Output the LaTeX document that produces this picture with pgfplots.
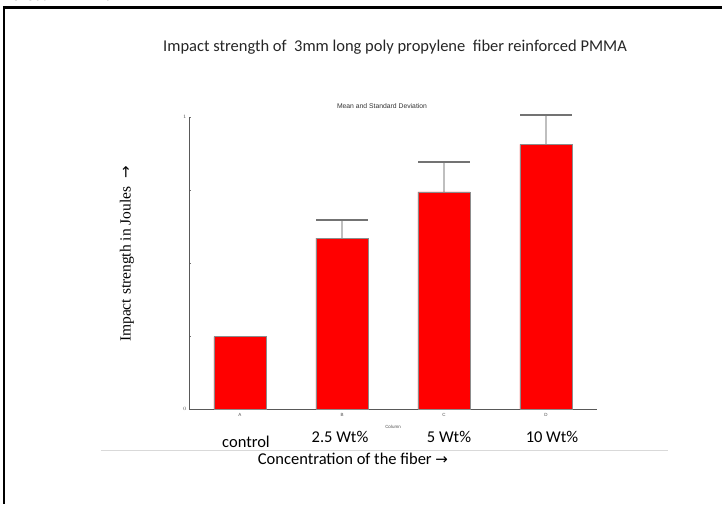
\documentclass[border=0pt]{standalone}
\usepackage{fontspec}
\setmainfont{Carlito}
\newfontfamily\serif{Liberation Serif}
\newfontfamily\arial{Liberation Sans}
\newfontfamily\dejavu{DejaVu Sans}
\usepackage{pgfplots}
\pgfplotsset{compat=1.18}

\begin{document}
\begin{tikzpicture}[x=1pt,y=1pt]
\begin{axis}[anchor=south west,
  scale only axis, width=408pt, height=292pt,
  xmin=-0.5, xmax=3.5, ymin=0, ymax=1,
  axis x line*=bottom, axis y line*=left,
  axis line style={draw=black!65, line width=1pt, -},
  ybar, bar width=0.51, bar shift=0pt, clip=false,
  xtick={0,1,2,3}, xticklabels={A,B,C,D},
  major x tick style={draw=none},
  ytick={0,1}, minor ytick={0.25,0.5,0.75},
  tick style={draw=black!55, line width=0.5pt},
  major tick length=2pt, minor tick length=1.5pt,
  tick label style={font=\arial\fontsize{4.5}{5}\selectfont, text=black!70},
  xticklabel style={yshift=1pt},
  yticklabel style={xshift=1pt}]
\addplot[sharp plot, draw=none, mark=none, forget plot,
  error bars/.cd, y dir=plus, y explicit,
  error bar style={draw=black!25, line width=1.2pt},
  error mark options={draw=black!55, line width=1.2pt, mark size=26pt, rotate=90}]
  coordinates {(1,0.585) +- (0,0.062) (2,0.744) +- (0,0.102) (3,0.906) +- (0,0.101)};
\addplot[fill=red, draw=black!45, line width=0.5pt] coordinates {(0,0.248) (1,0.585) (2,0.744) (3,0.906)};
\end{axis}

\begin{scope}[shift={(-189,-95)}]
\useasboundingbox (0,0) rectangle (722,504);
% page frame of the screenshot
\draw[line width=2.5pt] (3,496.5) -- (722,496.5);
\draw[line width=2.5pt] (4,497.7) -- (4,0);
\begin{scope}
  \clip (0,497.8) rectangle (722,504);
  \node[anchor=base west, inner sep=0, font=\serif\fontsize{17}{19}\selectfont] at (6,503.4) {forced PMMA.};
\end{scope}
\node[font=\fontsize{16.5}{18}\selectfont, text=black!85] at (395,457) {Impact strength of \ 3mm long poly propylene \ fiber reinforced PMMA};
\node[font=\arial\fontsize{6.8}{8}\selectfont, text=black!80] at (382,398) {Mean and Standard Deviation};
\node[font=\arial\fontsize{4.5}{5}\selectfont, text=black!70] at (393,77) {Column};
\node[font=\fontsize{16.5}{18}\selectfont] at (246,62) {control};
\node[font=\fontsize{16.5}{18}\selectfont] at (340,67) {2.5 Wt\%};
\node[font=\fontsize{16.5}{18}\selectfont] at (449,67) {5 Wt\%};
\node[font=\fontsize{16.5}{18}\selectfont] at (552,67) {10 Wt\%};
\draw[black!15, line width=1pt] (101,54) -- (668,54);
\node[font=\fontsize{16.5}{18}\selectfont] at (353,45) {Concentration of the fiber {\dejavu\fontsize{15}{17}\selectfont →}};
\node[rotate=90, font=\serif\fontsize{15.5}{17}\selectfont] at (127,250) {Impact strength in Joules \ {\dejavu\fontsize{15}{17}\selectfont →}};
\end{scope}
\end{tikzpicture}
\end{document}
